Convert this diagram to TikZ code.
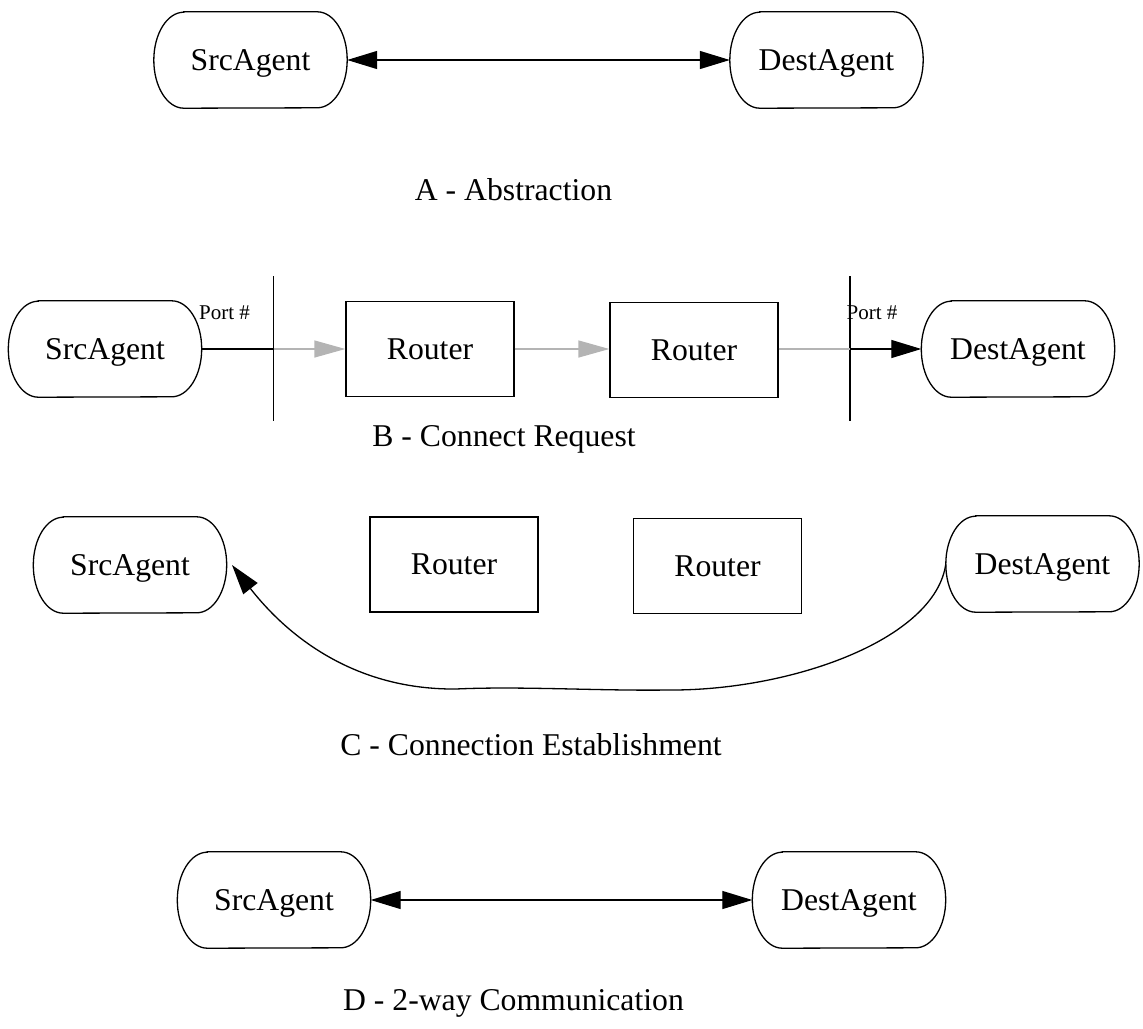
\documentclass[tikz,border=0pt]{standalone}
\usepackage{fontspec}
\setmainfont{Liberation Serif}
\usetikzlibrary{arrows.meta}

\definecolor{lightwire}{RGB}{180,180,180}

\tikzset{
  bigtext/.style={font=\fontsize{31.7}{38}\selectfont, text depth=0pt},
  agent/.style={bigtext, rectangle, inner sep=0pt, minimum width=193pt, minimum height=96pt},
  router/.style={bigtext, rectangle, draw, line width=1.3pt, inner sep=0pt, minimum width=168pt, minimum height=95pt},
  outline/.style={line width=1.3pt},
  caption/.style={bigtext, inner sep=0pt},
  portlabel/.style={font=\fontsize{21}{25}\selectfont, text depth=0pt, inner sep=0pt},
  wire/.style={line width=1.3pt},
  graywire/.style={line width=1.3pt, draw=lightwire},
  tip/.style={-{Triangle[length=30pt,width=18pt]}},
  twotip/.style={{Triangle[length=30pt,width=18pt]}-{Triangle[length=30pt,width=18pt]}},
  graytip/.style={-{Triangle[length=31pt,width=17pt,fill=lightwire]}}
}

% agent outline: straight top and bottom, elliptic ends
\newcommand\stadium[1]{%
  \draw[outline] ([xshift=30pt]#1.north west) -- ([xshift=-30pt]#1.north east)
    arc[start angle=90,end angle=-90,x radius=30pt,y radius=48pt]
    -- ([xshift=30pt]#1.south west)
    arc[start angle=270,end angle=90,x radius=30pt,y radius=48pt] -- cycle;}

\begin{document}
\begin{tikzpicture}[x=1pt,y=-1pt]
\useasboundingbox (0,0) rectangle (1143,1028);

% ---- A: abstraction
\node[agent] (as) at (250.5,60) {SrcAgent};
\node[agent] (ad) at (826.5,60) {DestAgent};
\draw[wire,twotip] (as.east) -- (ad.west);
\node[caption] (la) at (513.5,189) {A - Abstraction};

% ---- B: connect request
\node[agent] (bs) at (105,349) {SrcAgent};
\node[router] (br1) at (430,349) {Router};
\node[router] (br2) at (694,350) {Router};
\node[agent] (bd) at (1018,349) {DestAgent};
\coordinate (v1t) at (273.5,276);
\coordinate (v1b) at (273.5,421);
\coordinate (v2t) at (850,276);
\coordinate (v2b) at (850,421);
\coordinate (p1) at (273.5,349);
\coordinate (p2) at (850,349);
\draw[wire] (v1t) -- (v1b);
\draw[wire] (v2t) -- (v2b);
\draw[wire] (bs.east) -- (p1);
\draw[graywire,graytip] (p1) -- (br1.west);
\draw[graywire,graytip] (br1.east) -- (br2.west |- br1.east);
\draw[graywire] (br2.east |- p2) -- (p2);
\draw[wire,tip] (p2) -- (bd.west);
\node[portlabel] (pl1) at (224.5,313) {Port \#};
\node[portlabel] (pl2) at (872,313) {Port \#};
\node[caption] (lb) at (504,436) {B - Connect Request};

% ---- C: connection establishment
\node[agent] (cs) at (130,565) {SrcAgent};
\node[router] (cr1) at (454,564.5) {Router};
\node[router] (cr2) at (717.5,566) {Router};
\node[agent] (cd) at (1042.5,564) {DestAgent};
\coordinate (ctip) at (232,565);
\draw[wire,tip] (cd.west) .. controls (935,640) and (790,691) .. (668,690)
  .. controls (600,691) and (520,686) .. (456,689)
  .. controls (340,690) and (275,620) .. (ctip);
\node[caption] (lc) at (531,744) {C - Connection Establishment};

% ---- D: two-way communication
\node[agent] (ds) at (274,900) {SrcAgent};
\node[agent] (dd) at (849,900) {DestAgent};
\draw[wire,twotip] (ds.east) -- (dd.west);
\node[caption] (ld) at (513.5,1000) {D - 2-way Communication};

\foreach \n in {as,ad,bs,bd,cs,cd,ds,dd} {\stadium{\n}}
\end{tikzpicture}
\end{document}
